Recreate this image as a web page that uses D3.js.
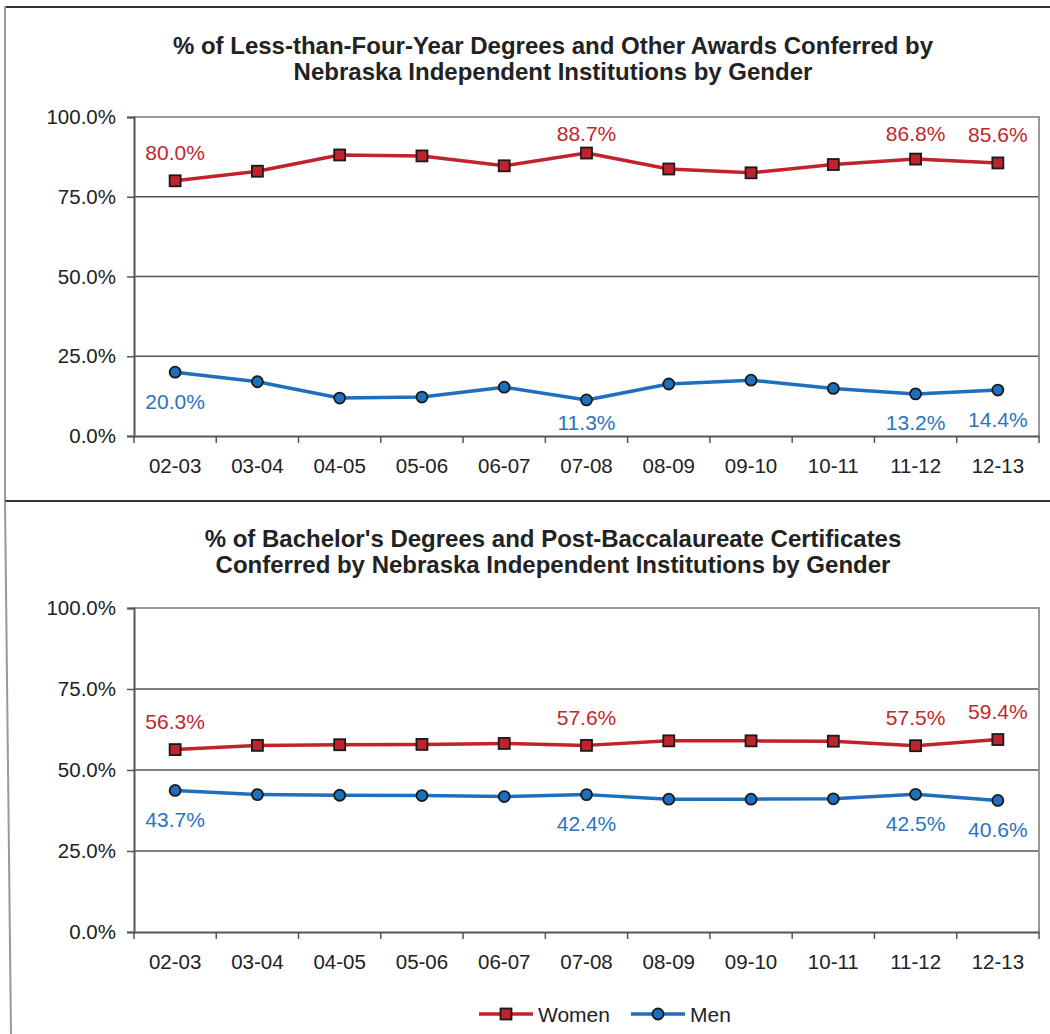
<!DOCTYPE html>
<html>
<head>
<meta charset="utf-8">
<script src="https://cdn.jsdelivr.net/npm/d3@7"></script>
<style>
  html, body { margin: 0; padding: 0; background: #fff; }
  svg { display: block; }
  text { font-family: "Liberation Sans", Arial, sans-serif; }
</style>
</head>
<body>
<svg id="chart" width="1050" height="1034"></svg>
<script>
// ---- data ----
const categories = ["02-03","03-04","04-05","05-06","06-07","07-08","08-09","09-10","10-11","11-12","12-13"];
const yTicks = [0, 25, 50, 75, 100];

const title1 = ["% of Less-than-Four-Year Degrees and Other Awards Conferred by",
                "Nebraska Independent Institutions by Gender"];
const women1 = [80.0, 83.0, 88.1, 87.8, 84.7, 88.7, 83.7, 82.5, 85.1, 86.8, 85.6];
const men1   = [20.0, 17.0, 11.9, 12.2, 15.3, 11.3, 16.3, 17.5, 14.9, 13.2, 14.4];

const title2 = ["% of Bachelor's Degrees and Post-Baccalaureate Certificates",
                "Conferred by Nebraska Independent Institutions by Gender"];
const women2 = [56.3, 57.6, 57.8, 57.9, 58.2, 57.6, 59.0, 59.0, 58.9, 57.5, 59.4];
const men2   = [43.7, 42.4, 42.2, 42.1, 41.8, 42.4, 41.0, 41.0, 41.1, 42.5, 40.6];

const labelIdx = [0, 5, 9, 10];
const seriesNames = ["Women", "Men"];

// ---- styles ----
const RED = "#C1222B", RED_TXT = "#C1272D";
const BLUE = "#1E6FBD", BLUE_TXT = "#2A74BE";
const fmt = v => v.toFixed(1) + "%";

const svg = d3.select("#chart");

// frame
svg.append("line").attr("x1", 5).attr("x2", 1050).attr("y1", 7).attr("y2", 7)
  .attr("stroke", "#333").attr("stroke-width", 2);
svg.append("line").attr("x1", 5).attr("x2", 5).attr("y1", 6).attr("y2", 501)
  .attr("stroke", "#999").attr("stroke-width", 2);
svg.append("line").attr("x1", 5).attr("x2", 1050).attr("y1", 501).attr("y2", 501)
  .attr("stroke", "#333").attr("stroke-width", 2);
svg.append("line").attr("x1", 5).attr("x2", 11).attr("y1", 501).attr("y2", 1034)
  .attr("stroke", "#999").attr("stroke-width", 2);

function drawChart(cfg) {
  const { titleLines, titleY, top, bottom, women, men } = cfg;
  const left = 134, right = 1039;
  const g = svg.append("g");

  g.selectAll("text.title").data(titleLines).join("text")
    .attr("x", 553).attr("y", (d, i) => titleY + i * 26.5)
    .attr("text-anchor", "middle").attr("font-weight", "bold")
    .attr("font-size", 24).attr("fill", "#222").text(d => d);

  const x = d3.scaleBand().domain(categories).range([left, right]);
  const y = d3.scaleLinear().domain([0, 100]).range([bottom, top]);
  const cx = c => x(c) + x.bandwidth() / 2;

  // gridlines
  g.selectAll("line.grid").data(yTicks.filter(t => t > 0 && t < 100)).join("line")
    .attr("x1", left).attr("x2", right).attr("y1", d => y(d)).attr("y2", d => y(d))
    .attr("stroke", "#555").attr("stroke-width", 1.5);
  // plot border top & right
  g.append("line").attr("x1", left).attr("x2", right + 1).attr("y1", y(100)).attr("y2", y(100))
    .attr("stroke", "#999").attr("stroke-width", 2);
  g.append("line").attr("x1", right).attr("x2", right).attr("y1", y(100)).attr("y2", y(0))
    .attr("stroke", "#999").attr("stroke-width", 2);

  // y axis
  const yAxis = d3.axisLeft(y).tickValues(yTicks).tickSize(7).tickPadding(11)
    .tickFormat(d => d.toFixed(1) + "%");
  const ya = g.append("g").attr("transform", `translate(${left},0)`).call(yAxis);
  ya.select(".domain").attr("stroke", "#555").attr("stroke-width", 2);
  ya.selectAll(".tick line").attr("stroke", "#555").attr("stroke-width", 1.5);
  ya.selectAll(".tick text").attr("font-size", 20.5).attr("fill", "#222")
    .attr("font-family", "Liberation Sans, Arial, sans-serif");

  // x axis
  const xAxis = d3.axisBottom(x).tickSize(0).tickPadding(22);
  const xa = g.append("g").attr("transform", `translate(0,${bottom})`).call(xAxis);
  xa.select(".domain").attr("stroke", "#555").attr("stroke-width", 2);
  xa.selectAll(".tick text").attr("font-size", 20.5).attr("fill", "#222")
    .attr("font-family", "Liberation Sans, Arial, sans-serif");
  // boundary ticks
  const bounds = categories.map(c => x(c)).concat([right]);
  g.selectAll("line.xt").data(bounds).join("line")
    .attr("x1", d => d).attr("x2", d => d).attr("y1", bottom).attr("y2", bottom + 7)
    .attr("stroke", "#555").attr("stroke-width", 1.5);

  const line = d3.line().x((d, i) => cx(categories[i])).y(d => y(d));

  // men
  g.append("path").datum(men).attr("d", line).attr("fill", "none")
    .attr("stroke", BLUE).attr("stroke-width", 3.5).attr("stroke-linejoin", "round");
  g.selectAll("circle.men").data(men).join("circle")
    .attr("cx", (d, i) => cx(categories[i])).attr("cy", d => y(d)).attr("r", 5.5)
    .attr("fill", BLUE).attr("stroke", "#1a1a1a").attr("stroke-width", 1.8);

  // women
  g.append("path").datum(women).attr("d", line).attr("fill", "none")
    .attr("stroke", RED).attr("stroke-width", 3.5).attr("stroke-linejoin", "round");
  g.selectAll("rect.women").data(women).join("rect")
    .attr("x", (d, i) => cx(categories[i]) - 5.5).attr("y", d => y(d) - 5.5)
    .attr("width", 11).attr("height", 11)
    .attr("fill", RED).attr("stroke", "#1a1a1a").attr("stroke-width", 1.8);

  // labels
  g.selectAll("text.wl").data(labelIdx).join("text")
    .attr("x", i => cx(categories[i]))
    .attr("y", i => Math.max(y(women[i]) - 28, top + 16) + 7.5)
    .attr("text-anchor", "middle").attr("font-size", 21).attr("fill", RED_TXT)
    .text(i => fmt(women[i]));
  g.selectAll("text.ml").data(labelIdx).join("text")
    .attr("x", i => cx(categories[i]))
    .attr("y", i => Math.min(y(men[i]) + 29, bottom - 14) + 7.5)
    .attr("text-anchor", "middle").attr("font-size", 21).attr("fill", BLUE_TXT)
    .text(i => fmt(men[i]));
}

drawChart({ titleLines: title1, titleY: 53.5, top: 117, bottom: 436, women: women1, men: men1 });
drawChart({ titleLines: title2, titleY: 546.5, top: 608, bottom: 932, women: women2, men: men2 });

// legend
const legend = svg.append("g");
const legItems = [
  { name: seriesNames[0], color: RED, x0: 479, shape: "square" },
  { name: seriesNames[1], color: BLUE, x0: 631, shape: "circle" }
];
const ly = 1014;
legItems.forEach(it => {
  legend.append("line").attr("x1", it.x0).attr("x2", it.x0 + 54).attr("y1", ly).attr("y2", ly)
    .attr("stroke", it.color).attr("stroke-width", 3.5);
  if (it.shape === "square") {
    legend.append("rect").attr("x", it.x0 + 27 - 5.5).attr("y", ly - 5.5).attr("width", 11).attr("height", 11)
      .attr("fill", it.color).attr("stroke", "#1a1a1a").attr("stroke-width", 1.8);
  } else {
    legend.append("circle").attr("cx", it.x0 + 27).attr("cy", ly).attr("r", 5.5)
      .attr("fill", it.color).attr("stroke", "#1a1a1a").attr("stroke-width", 1.8);
  }
  legend.append("text").attr("x", it.x0 + 59).attr("y", ly + 7.5).attr("font-size", 21)
    .attr("fill", "#222").text(it.name);
});
</script>
</body>
</html>
